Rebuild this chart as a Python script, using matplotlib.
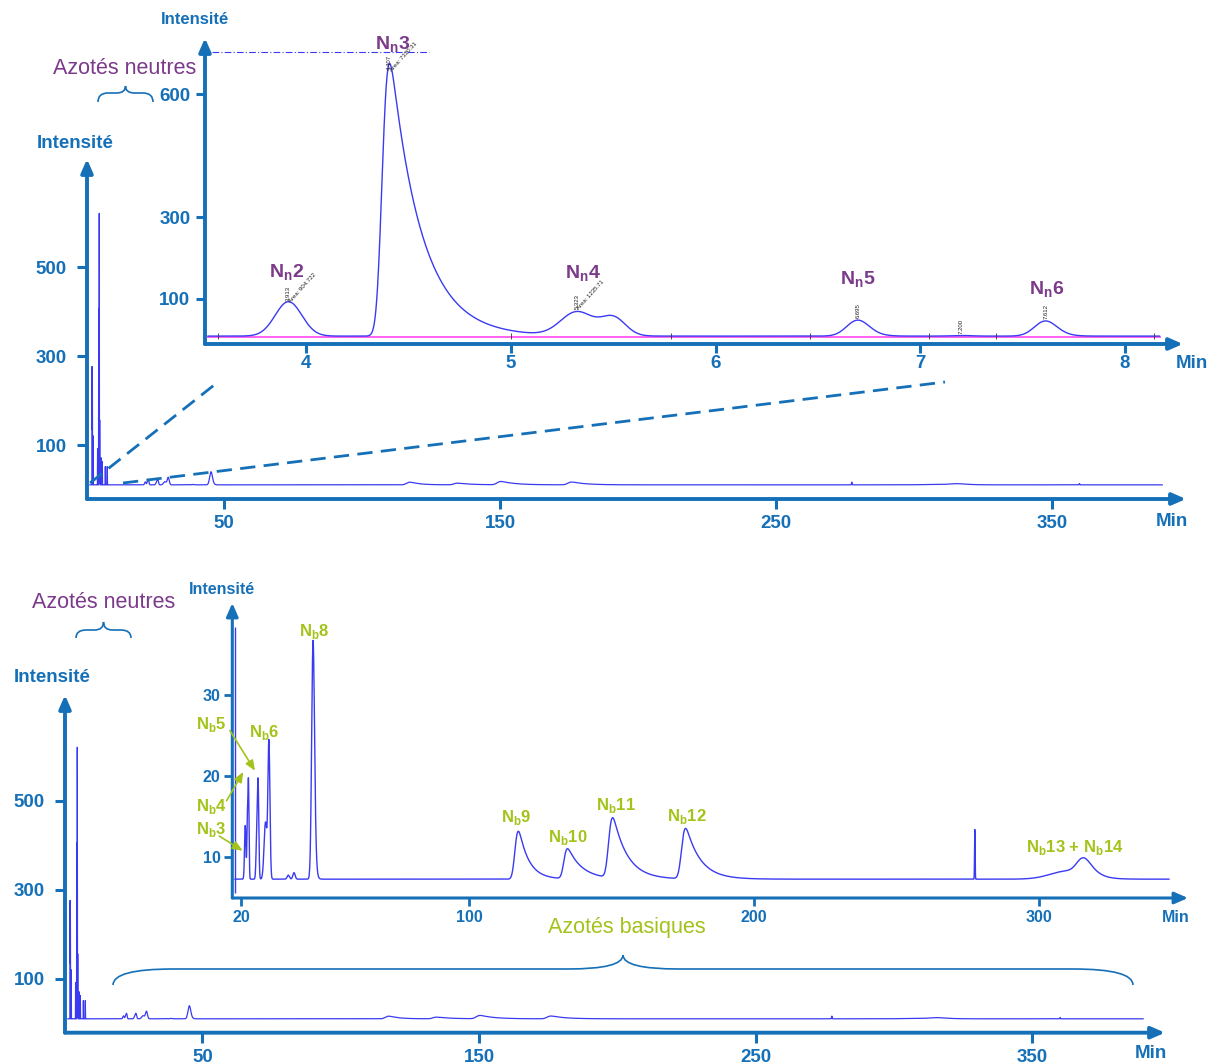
import numpy as np
import matplotlib
matplotlib.use("Agg")
import matplotlib.pyplot as plt
from matplotlib.path import Path
from matplotlib.patches import PathPatch

plt.rcParams['font.family'] = ['Liberation Sans', 'DejaVu Sans']
plt.rcParams['mathtext.fontset'] = 'custom'
plt.rcParams['mathtext.rm'] = 'Liberation Sans'
plt.rcParams['mathtext.bf'] = 'Liberation Sans:bold'

W, H = 1209, 1064
AXIS = '#1570b8'
TRACE = '#3a3af2'
PURPLE = '#7b3a8a'
GREEN = '#a3c21a'
MAGENTA = '#ff55ee'

# ---- full run: early (neutral) spikes seen on the overview
front_rt = [2.2, 2.3, 2.6, 4.2, 4.6, 4.8, 4.95, 5.4, 5.9, 7.0, 7.7]
front_h = [265, 236, 110, 81, 395, 610, 146, 61, 52, 41, 41]
overview_base = 10.5
overview_start, overview_end = 1.4, 390.0

# ---- basic nitrogen peaks (overview + lower zoom), height above baseline
basic_rt = [21.5, 22.2, 22.6, 25.5, 26.0, 28.6, 29.8, 36.6, 38.6, 45.3,
            117.3, 134.6, 150.4, 176.0, 277.5, 310.0, 315.9, 360.0]
basic_h = [6.6, 6.0, 12.3, 4.5, 11.8, 7.0, 16.8, 0.5, 0.8, 29.4,
           5.9, 3.7, 7.4, 6.2, 6.1, 1.0, 2.0, 3.0]
basic_sig = [0.25, 0.15, 0.2, 0.25, 0.25, 0.5, 0.35, 0.4, 0.4, 0.45,
             0.8, 0.8, 0.9, 0.9, 0.1, 6.0, 2.0, 0.1]
basic_tau = [0, 0, 0, 0, 0, 0, 0, 0, 0, 0.3,
             3.5, 5.0, 5.0, 5.0, 0, 0, 3.0, 0]
basic_base = 7.3
basic_start, basic_end = 17.9, 345.6
basic_start_level = 38.3

# ---- neutral nitrogen zoom (3.5 - 8.2 min)
neutral_rt = [3.913, 4.407, 5.323, 5.50, 6.695, 7.200, 7.612]
neutral_h = [84, 665, 58, 44, 39, 1.5, 37]
neutral_sig = [0.065, 0.022, 0.08, 0.06, 0.05, 0.05, 0.05]
neutral_tau = [0, 0.15, 0, 0, 0.03, 0, 0.03]
neutral_base = 9.5
neutral_start, neutral_end = 3.52, 8.17
marked_rt = [3.913, 4.407, 5.323, 6.695, 7.200, 7.612]
marked_shift = [1, -17, 9, 4, 4, 4]
marked_area = {3.913: 904.722, 4.407: 7330.31, 5.323: 1235.71}
event_rt = [3.57, 5.0, 5.78, 6.46, 7.04, 7.37, 8.14]
pink_level = 6.5
top_level = 702

nn_labels = ['N$_\\mathbf{n}$2', 'N$_\\mathbf{n}$3', 'N$_\\mathbf{n}$4',
             'N$_\\mathbf{n}$5', 'N$_\\mathbf{n}$6']
nn_x = [3.904, 4.42, 5.35, 6.695, 7.617]
nn_y = [151, 707, 150, 134, 110]

nb_labels = ['N$_\\mathbf{b}$3', 'N$_\\mathbf{b}$4', 'N$_\\mathbf{b}$5',
             'N$_\\mathbf{b}$6', 'N$_\\mathbf{b}$8', 'N$_\\mathbf{b}$9',
             'N$_\\mathbf{b}$10', 'N$_\\mathbf{b}$11', 'N$_\\mathbf{b}$12',
             'N$_\\mathbf{b}$13 + N$_\\mathbf{b}$14']
nb_x = [9.7, 9.7, 9.7, 28.2, 45.6, 116.7, 134.5, 151.6, 176.6, 312.6]
nb_y = [12.8, 15.7, 25.8, 24.8, 37.2, 14.3, 11.9, 15.8, 14.5, 10.7]
# arrows pointing from the crowded labels to their peaks
nb_arrow_from = [(12.4, 12.6), (14.95, 16.95), (16.1, 25.6)]
nb_arrow_to = [(20.6, 10.8), (20.8, 20.5), (24.9, 20.65)]


def peak(t, rt, h, sig, tau=0.0):
    # gaussian, optionally dragged by an exponential tail; apex kept at rt
    dt = sig / 25
    tl = np.arange(rt - 6 * sig, rt + 6 * sig + 10 * tau + dt, dt)
    g = np.exp(-0.5 * ((tl - rt) / sig) ** 2)
    if tau > 0:
        k = np.exp(-np.arange(0, 10 * tau, dt) / tau)
        g = np.convolve(g, k)[:len(tl)]
    tl = tl - (tl[np.argmax(g)] - rt)
    return h * np.interp(t, tl, g / g.max(), left=0, right=0)


def trace(t, base, rts, hs, sigs, taus):
    y = np.full_like(t, base)
    for rt, h, s, tau in zip(rts, hs, sigs, taus):
        y += peak(t, rt, h, s, tau)
    return y


fig = plt.figure(figsize=(W / 100, H / 100), dpi=100)


def arrow_axes(box, xlim, ylim, xticks, yticks, fs, tlen, tw, lw, xpad, ypad):
    l, t, r, b = box
    ax = fig.add_axes([l / W, 1 - b / H, (r - l) / W, (b - t) / H])
    ax.set_xlim(xlim)
    ax.set_ylim(ylim)
    ax.patch.set_visible(False)
    for s in ax.spines.values():
        s.set_visible(False)
    for end in [(0, 1), (1, 0)]:
        ax.annotate('', xy=end, xytext=(0, 0), xycoords='axes fraction',
                    arrowprops=dict(arrowstyle='-|>,head_length=0.8,head_width=0.35',
                                    lw=lw, color=AXIS, shrinkA=0, shrinkB=0,
                                    mutation_scale=10))
    ax.set_xticks(xticks)
    ax.set_yticks(yticks)
    ax.tick_params(direction='out', length=tlen, width=tw, color=AXIS,
                   labelcolor=AXIS, labelsize=fs)
    ax.tick_params(axis='x', pad=xpad)
    ax.tick_params(axis='y', pad=ypad)
    plt.setp(ax.get_xticklabels() + ax.get_yticklabels(), fontweight='bold')
    return ax


t_all = np.arange(overview_start, overview_end, 0.01)
y_all = trace(t_all, overview_base, front_rt, front_h, [0.03] * len(front_rt),
              [0] * len(front_rt))
y_all += trace(t_all, 0, basic_rt, basic_h, basic_sig, basic_tau)

# ---------------- top: overview + neutral zoom
ax1 = arrow_axes((87, 159, 1186, 499), (0.36, 398.6), (-21.3, 742.7),
                 [50, 150, 250, 350], [100, 300, 500], 13.5, 7.5, 2.2, 2.8, 4, 7)
ax1.plot(t_all, y_all, color=TRACE, lw=0.9)

ax2 = arrow_axes((205, 38, 1183, 344), (3.505, 8.283), (-9.76, 736.6),
                 [4, 5, 6, 7, 8], [100, 300, 600], 13.5, 6.5, 2.2, 2.8, 1.5, 4)
t_n = np.arange(neutral_start, neutral_end, 0.002)
y_n = trace(t_n, neutral_base, neutral_rt, neutral_h, neutral_sig, neutral_tau)
ax2.plot([neutral_start, neutral_end], [pink_level] * 2, color=MAGENTA, lw=1.3)
ax2.plot(t_n, y_n, color=TRACE, lw=1.0)
ax2.plot([3.54, 4.6], [top_level] * 2, color=TRACE, lw=0.8, ls=(0, (6, 2, 1, 2)))
ax2.plot(event_rt, [neutral_base] * len(event_rt), ls='none', marker='|',
         color='#333333', ms=4, mew=0.6)
for rt, dv in zip(marked_rt, marked_shift):
    apex = neutral_base + neutral_h[neutral_rt.index(rt)]
    ax2.text(rt, apex + dv, f'{rt:.3f}', rotation=90, fontsize=4.3,
             ha='center', va='bottom', color='#222222')
    if rt in marked_area:
        ax2.text(rt + 0.015, apex + dv - 6, f'Area: {marked_area[rt]:g}', rotation=48,
                 rotation_mode='anchor', fontsize=4.3, ha='left', va='bottom',
                 color='#222222')
for lab, x, y in zip(nn_labels, nn_x, nn_y):
    ax2.text(x, y, lab, color=PURPLE, fontsize=14, fontweight='bold',
             ha='center', va='baseline')

# ---------------- bottom: overview + basic zoom
ax3 = arrow_axes((65, 695, 1165, 1032.7), (0.36, 397.9), (-20.7, 738),
                 [50, 150, 250, 350], [100, 300, 500], 13.5, 7.5, 2.2, 2.8, 4, 7)
ax3.plot(t_all, y_all, color=TRACE, lw=0.9)

ax4 = arrow_axes((232.3, 603, 1188, 898), (16.95, 352.3), (4.98, 41.3),
                 [20, 100, 200, 300], [10, 20, 30], 11.5, 6, 2.0, 2.2, 3, 2.5)
t_b = np.arange(basic_start, basic_end, 0.02)
y_b = trace(t_b, basic_base, basic_rt, basic_h, basic_sig, basic_tau)
ax4.plot(t_b, y_b, color=TRACE, lw=1.0)
ax4.vlines(basic_start, 5.6, basic_start_level, color=TRACE, lw=1.0)
for lab, x, y in zip(nb_labels, nb_x, nb_y):
    ax4.text(x, y, lab, color=GREEN, fontsize=12, fontweight='bold',
             ha='center', va='baseline')
for a, b in zip(nb_arrow_from, nb_arrow_to):
    ax4.annotate('', xy=b, xytext=a, annotation_clip=False,
                 arrowprops=dict(arrowstyle='-|>,head_length=0.6,head_width=0.25',
                                 color=GREEN, lw=1.2, shrinkA=0, shrinkB=0,
                                 mutation_scale=10))

# ---------------- annotations in figure pixels
ov = fig.add_axes([0, 0, 1, 1], zorder=10)
ov.set_xlim(0, W)
ov.set_ylim(H, 0)
ov.axis('off')


def brace(x0, x1, y_tip, y_mid, y_end, r_end, r_mid):
    xc = (x0 + x1) / 2
    verts = [(x0, y_end), (x0, y_mid), (x0 + r_end, y_mid),
             (xc - r_mid, y_mid),
             (xc, y_mid), (xc, y_tip),
             (xc, y_mid), (xc + r_mid, y_mid),
             (x1 - r_end, y_mid),
             (x1, y_mid), (x1, y_end)]
    codes = [Path.MOVETO, Path.CURVE3, Path.CURVE3, Path.LINETO,
             Path.CURVE3, Path.CURVE3, Path.CURVE3, Path.CURVE3,
             Path.LINETO, Path.CURVE3, Path.CURVE3]
    ov.add_patch(PathPatch(Path(verts, codes), fill=False, ec=AXIS, lw=1.2))


brace(98, 153, 86, 93, 102, 10, 9)
brace(76, 131, 622, 630, 638, 10, 9)
brace(113, 1133, 955, 969, 985, 60, 55)

ov.plot([90, 218], [483, 382], color=AXIS, lw=2, ls=(0, (5.5, 3)))
ov.plot([123, 945], [483, 382], color=AXIS, lw=2, ls=(0, (5.5, 3)))

for x, y, fs in [(75, 144, 13.5), (195, 20, 12), (52, 678, 13.5), (222, 590, 11.5)]:
    ov.text(x, y, 'Intensité', color=AXIS, fontsize=fs, fontweight='bold',
            ha='center', va='center')
for x, y, fs in [(1172, 521, 13.5), (1192, 363, 13.5), (1176, 918, 11.5), (1151, 1054, 13.5)]:
    ov.text(x, y, 'Min', color=AXIS, fontsize=fs, fontweight='bold',
            ha='center', va='center')
ov.text(125, 68, 'Azotés neutres', color=PURPLE, fontsize=15.5, ha='center', va='center')
ov.text(104, 602, 'Azotés neutres', color=PURPLE, fontsize=15.5, ha='center', va='center')
ov.text(627, 928, 'Azotés basiques', color=GREEN, fontsize=15.5, ha='center', va='center')

fig.savefig('out.png', dpi=100)
